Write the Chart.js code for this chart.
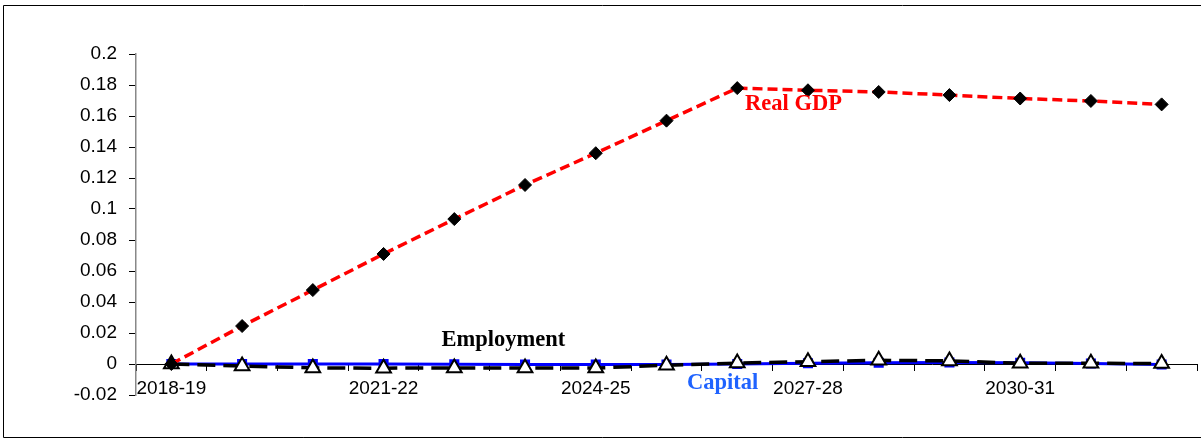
<!DOCTYPE html>
<html>
<head>
<meta charset="utf-8">
<script src="https://cdn.jsdelivr.net/npm/chart.js@4.4.1/dist/chart.umd.min.js"></script>
<style>
  html, body { margin: 0; padding: 0; background: #fff; }
  #wrap { position: relative; width: 1201px; height: 440px; }
</style>
</head>
<body>
<div id="wrap"><canvas id="gdpChart"></canvas></div>
<script>
// years on the x axis
const years = ['2018-19', '2019-20', '2020-21', '2021-22', '2022-23', '2023-24', '2024-25',
  '2025-26', '2026-27', '2027-28', '2028-29', '2029-30', '2030-31', '2031-32', '2032-33'];

// deviation from baseline
const realGdp = [0, 0.0245, 0.0477, 0.071, 0.0935, 0.1155, 0.136, 0.157,
  0.178, 0.1766, 0.1755, 0.1735, 0.1713, 0.1697, 0.1675];
const employment = [0, -0.0013, -0.0025, -0.0027, -0.0025, -0.0026, -0.0026, -0.0008,
  0.0006, 0.0015, 0.0024, 0.002, 0.0005, 0.0005, 0.0003];
const capital = [0, 0, 0, 0, -0.0002, -0.0003, -0.0003, -0.0003,
  0, 0.0005, 0.0008, 0.001, 0.0008, 0.0003, -0.0003];

// y axis range
const yMin = -0.02;
const yMax = 0.2;
const yStep = 0.02;

// series names written next to the lines (x = category index, y = value)
const seriesLabels = [
  { text: 'Real GDP', x: 8.11, y: 0.1676, color: '#ff0000' },
  { text: 'Employment', x: 3.82, y: 0.0154, color: '#000000' },
  { text: 'Capital', x: 7.29, y: -0.0121, color: '#1f63ff' }
];

// frame around the whole figure
const framePlugin = {
  id: 'frame',
  beforeDraw(chart) {
    const c = chart.ctx;
    c.save();
    c.strokeStyle = '#000';
    c.lineWidth = 1;
    c.beginPath();
    c.moveTo(1210, 5.5);
    c.lineTo(3.5, 5.5);
    c.lineTo(3.5, 437.5);
    c.lineTo(1210, 437.5);
    c.stroke();
    c.restore();
  }
};

const seriesLabelPlugin = {
  id: 'seriesLabels',
  afterDatasetsDraw(chart) {
    const c = chart.ctx;
    const xs = chart.scales.x, ys = chart.scales.y;
    const step = xs.getPixelForValue(1) - xs.getPixelForValue(0);
    c.save();
    c.font = 'bold 22.5px "Liberation Serif", "Times New Roman", serif';
    c.textAlign = 'left';
    c.textBaseline = 'middle';
    seriesLabels.forEach(l => {
      c.fillStyle = l.color;
      c.fillText(l.text, xs.getPixelForValue(0) + l.x * step, ys.getPixelForValue(l.y));
    });
    c.restore();
  }
};

const tickFont = { family: '"Liberation Sans", Arial, sans-serif', size: 19 };

new Chart(document.getElementById('gdpChart').getContext('2d'), {
  type: 'line',
  data: {
    labels: years,
    datasets: [{
      label: 'Real GDP',
      data: realGdp,
      borderColor: '#ff0000',
      borderWidth: 3.5,
      borderDash: [10, 5],
      pointStyle: 'rectRot',
      pointRadius: 6.5,
      pointBackgroundColor: '#000',
      pointBorderColor: '#000',
      pointBorderWidth: 1,
      tension: 0
    }, {
      label: 'Employment',
      data: employment,
      borderColor: '#000',
      borderWidth: 3.5,
      borderDash: [18, 8],
      pointStyle: 'triangle',
      pointRadius: 8.5,
      pointBackgroundColor: '#fff',
      pointBorderColor: '#000',
      pointBorderWidth: 2,
      tension: 0
    }, {
      label: 'Capital',
      data: capital,
      borderColor: '#0000ff',
      borderWidth: 3,
      pointStyle: 'rect',
      pointRadius: 5,
      pointBackgroundColor: '#0000ff',
      pointBorderColor: '#0000ff',
      tension: 0
    }]
  },
  options: {
    responsive: true,
    maintainAspectRatio: false,
    animation: false,
    layout: { autoPadding: false, padding: { left: 0, top: 54, right: 4, bottom: 45 } },
    plugins: {
      legend: { display: false },
      tooltip: { enabled: false }
    },
    scales: {
      x: {
        type: 'category',
        position: { y: 0 },
        offset: true,
        // labels sit well inside the offset, no extra room needed at the ends
        afterFit(scale) { scale.paddingLeft = 0; scale.paddingRight = 0; },
        border: { color: '#000', width: 1 },
        grid: {
          offset: true,
          drawOnChartArea: false,
          drawTicks: true,
          tickLength: 6,
          tickColor: '#000'
        },
        ticks: {
          autoSkip: false,
          maxRotation: 0,
          padding: 7,
          color: '#000',
          font: tickFont,
          callback: function(val, i) { return i % 3 === 0 ? this.getLabelForValue(val) : ''; }
        }
      },
      y: {
        position: 'left',
        min: yMin,
        max: yMax,
        afterFit(scale) { scale.width = 136; },
        border: { color: '#888', width: 1.5 },
        grid: {
          drawOnChartArea: false,
          drawTicks: true,
          tickLength: 7,
          tickColor: '#000'
        },
        ticks: {
          stepSize: yStep,
          padding: 12,
          color: '#000',
          font: tickFont,
          callback: v => String(Number(v.toFixed(2)))
        }
      }
    }
  },
  plugins: [framePlugin, seriesLabelPlugin]
});
</script>
</body>
</html>
